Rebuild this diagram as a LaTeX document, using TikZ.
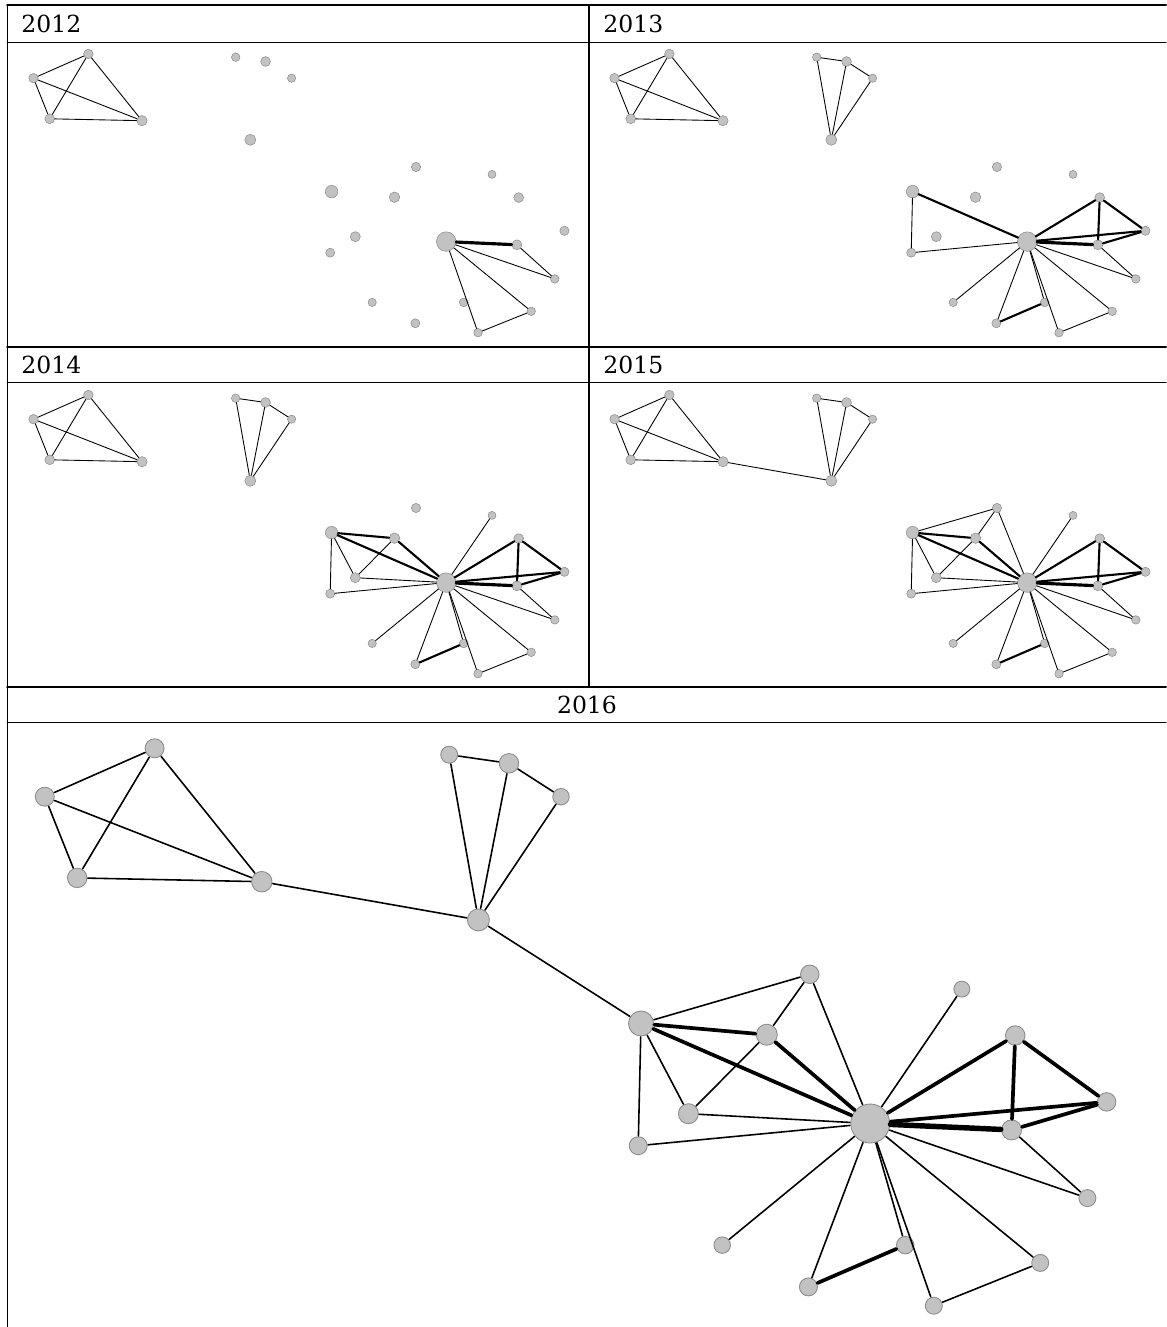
\documentclass[tikz,border=0pt]{standalone}
\usepackage{fontspec}
\setmainfont{DejaVu Serif}
\usepackage{xcolor}
\usepackage{tikz}

\definecolor{nodegray}{gray}{0.76}
\definecolor{nodeline}{gray}{0.55}

\tikzset{
  actor/.style={circle, inner sep=0pt, fill=nodegray, draw=nodeline, line width=0.3pt},
  tie/.style={line width=0.5pt},
  strongtie/.style={line width=1.2pt},
  strongesttie/.style={line width=1.8pt},
  rule/.style={line width=1.1pt},
  thinrule/.style={line width=0.55pt},
  year/.style={inner sep=0pt}
}

% all actors of one panel, #1 = prefix of the names
\newcommand{\actors}[1]{%
  \foreach \n/\x/\y/\d in {a1/88.4/54/0.19, a2/33.5/78.2/0.19, a3/49.7/118.8/0.195,
      a4/142/120.7/0.205, b1/235.7/57.2/0.17, b2/265.6/61.5/0.195, b3/291.6/78.2/0.165,
      b4/250.3/139.8/0.22, p1/416/167/0.185, p2/492/174.4/0.16, p3/331.6/191.6/0.25,
      p4/394.5/197.2/0.21, p5/518.7/197.6/0.195, p6/564.4/230.8/0.185, p7/355.3/236.7/0.2,
      p8/330.2/252.7/0.18, hub/446.2/241.6/0.39, p9/516.9/244.8/0.2, p10/554.8/278.9/0.17,
      p11/372.2/302.4/0.165, p12/463.7/302.4/0.175, p13/531.2/311.3/0.17,
      p14/415.3/323.3/0.18, p15/478/332.7/0.17}
    \node[actor, minimum size=\d cm] (#1\n) at (\x,\y) {};
}
\newcommand{\tiesA}[1]{%
  \foreach \u/\v in {a1/a2,a1/a3,a1/a4,a2/a3,a2/a4,a3/a4} \draw[tie] (#1\u) -- (#1\v);
}
\newcommand{\tiesB}[1]{%
  \foreach \u/\v in {b1/b2,b2/b3,b1/b4,b2/b4,b3/b4} \draw[tie] (#1\u) -- (#1\v);
}
% star around the hub, as in 2013
\newcommand{\tiesStar}[1]{%
  \foreach \u/\v in {hub/p3,hub/p5,hub/p6,p5/p9,p5/p6,p6/p9,p12/p14}
    \draw[strongtie] (#1\u) -- (#1\v);
  \draw[strongesttie] (#1hub) -- (#1p9);
  \foreach \u/\v in {p3/p8,hub/p8,hub/p10,p9/p10,hub/p11,hub/p12,hub/p13,p13/p15,hub/p14,hub/p15}
    \draw[tie] (#1\u) -- (#1\v);
}
% left part of the star, from 2014 on
\newcommand{\tiesLeft}[1]{%
  \foreach \u/\v in {p3/p4,hub/p4} \draw[strongtie] (#1\u) -- (#1\v);
  \foreach \u/\v in {hub/p2,p3/p7,p4/p7,hub/p7} \draw[tie] (#1\u) -- (#1\v);
}

\begin{document}
\begin{tikzpicture}[
  x=0.02cm, y=-0.02cm,
  line cap=round,
  line join=round,
  every node/.style={font=\fontsize{13.4}{16}\selectfont}
]
  \useasboundingbox (0,0) rectangle (1166,1327);

  % Table
  \draw[rule] (7,5) -- (1166,5);
  \draw[rule] (7.5,5) -- (7.5,1327);
  \draw[rule] (589,5) -- (589,687);
  \draw[rule] (7,347) -- (1166,347);
  \draw[rule] (7,687) -- (1166,687);
  \draw[thinrule] (7,42) -- (1166,42);
  \draw[thinrule] (7,382) -- (1166,382);
  \draw[thinrule] (7,722) -- (1166,722);

  % Headers
  \node[year, anchor=west] (h12) at (21,24.3) {2012};
  \node[year, anchor=west] (h13) at (603,24.3) {2013};
  \node[year, anchor=west] (h14) at (21,365.3) {2014};
  \node[year, anchor=west] (h15) at (603,365.3) {2015};
  \node[year] (h16) at (587,705) {2016};

  % 2012
  \begin{scope}
    \actors{y12}
    \tiesA{y12}
    \draw[strongesttie] (y12hub) -- (y12p9);
    \foreach \u/\v in {hub/p10,p9/p10,hub/p13,hub/p15,p13/p15}
      \draw[tie] (y12\u) -- (y12\v);
  \end{scope}

  % 2013
  \begin{scope}[shift={(581,0)}]
    \actors{y13}
    \tiesA{y13}
    \tiesB{y13}
    \tiesStar{y13}
  \end{scope}

  % 2014
  \begin{scope}[shift={(0,341)}]
    \actors{y14}
    \tiesA{y14}
    \tiesB{y14}
    \tiesStar{y14}
    \tiesLeft{y14}
  \end{scope}

  % 2015
  \begin{scope}[shift={(581,341)}]
    \actors{y15}
    \tiesA{y15}
    \tiesB{y15}
    \tiesStar{y15}
    \tiesLeft{y15}
    \foreach \u/\v in {p1/p3,p1/p4,p1/hub,a4/b4}
      \draw[tie] (y15\u) -- (y15\v);
  \end{scope}

  % 2016, same network at twice the size
  \begin{scope}[shift={(-22.2,640.3)}, scale=2, transform shape,
      actor/.append style={line width=0.5pt},
      tie/.style={line width=0.9pt},
      strongtie/.style={line width=2.1pt},
      strongesttie/.style={line width=3.1pt}]
    \actors{y16}
    \tiesA{y16}
    \tiesB{y16}
    \tiesStar{y16}
    \tiesLeft{y16}
    \foreach \u/\v in {p1/p3,p1/p4,p1/hub,a4/b4,b4/p3}
      \draw[tie] (y16\u) -- (y16\v);
  \end{scope}
\end{tikzpicture}
\end{document}
